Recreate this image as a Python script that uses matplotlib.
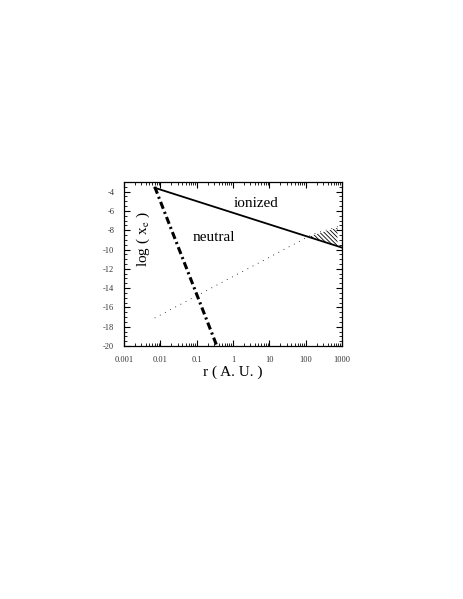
import matplotlib
matplotlib.use("Agg")
import matplotlib.pyplot as plt
import numpy as np
from matplotlib.ticker import LogLocator, MultipleLocator, NullFormatter

plt.rcParams["font.family"] = ["Liberation Serif", "DejaVu Serif"]
plt.rcParams["mathtext.fontset"] = "stix"
plt.rcParams["hatch.linewidth"] = 0.6
plt.rcParams["axes.unicode_minus"] = False

# lines (r in A.U., log x_e)
solid_r = [0.007, 1000]
solid_y = [-3.6, -9.8]
dashdot_r = [0.007, 0.36]
dashdot_y = [-3.5, -20.0]
dotted_r = [0.007, 160, 1000]
dotted_y = [-17.1, -8.4, -7.5]
# hatched wedge: right end of the wedge
hatch_rmax = 750

xticks = [0.001, 0.01, 0.1, 1, 10, 100, 1000]
xticklabels = ["0.001", "0.01", "0.1", "1", "10", "100", "1000"]
yticks = [-20, -18, -16, -14, -12, -10, -8, -6, -4]

fig = plt.figure(figsize=(4.63, 5.99), dpi=100)
ax = fig.add_axes([124 / 463, 1 - 346 / 599, 218 / 463, 164 / 599])

ax.plot(solid_r, solid_y, color="black", lw=1.3)
ax.plot(dashdot_r, dashdot_y, color="black", lw=2.2, linestyle=(0, (2.4, 1.1, 0.7, 1.1)))
ax.plot(dotted_r, dotted_y, color="black", lw=0.6, linestyle=(0, (1, 6)))

# hatched region between solid and dotted lines beyond their crossing
lr = np.linspace(1.5, np.log10(hatch_rmax), 200)
ys = np.interp(lr, np.log10(solid_r), solid_y)
yd = np.interp(lr, np.log10(dotted_r), dotted_y) - 0.1
mask = yd >= ys
ax.fill_between(10 ** lr, ys, yd, where=mask, facecolor="none",
                edgecolor="black", hatch="\\" * 8, lw=0.0)

ax.set_xscale("log")
ax.set_xlim(0.001, 1000)
ax.set_ylim(-20, -3)
ax.set_xticks(xticks)
ax.set_xticklabels(xticklabels)
ax.xaxis.set_minor_locator(LogLocator(base=10, subs=np.arange(2, 10)))
ax.xaxis.set_minor_formatter(NullFormatter())
ax.set_yticks(yticks)
ax.yaxis.set_minor_locator(MultipleLocator(0.5))

ax.tick_params(which="both", direction="in", top=True, right=True,
               labelsize=6, labelcolor="#333333", pad=7)
ax.tick_params(which="major", length=4, width=0.8)
ax.tick_params(which="minor", length=2, width=0.6)
for s in ax.spines.values():
    s.set_linewidth(0.9)

ax.text(0.605, 0.87, "ionized", transform=ax.transAxes, ha="center", va="center", fontsize=11)
ax.text(0.41, 0.66, "neutral", transform=ax.transAxes, ha="center", va="center", fontsize=11)
ax.text(0.09, 0.65, r"log ( x$_{\rm e}$ )", transform=ax.transAxes, ha="center",
        va="center", rotation=90, fontsize=11)
ax.set_xlabel("r ( A. U. )", fontsize=11, labelpad=1)

fig.savefig("out.png", dpi=100)
